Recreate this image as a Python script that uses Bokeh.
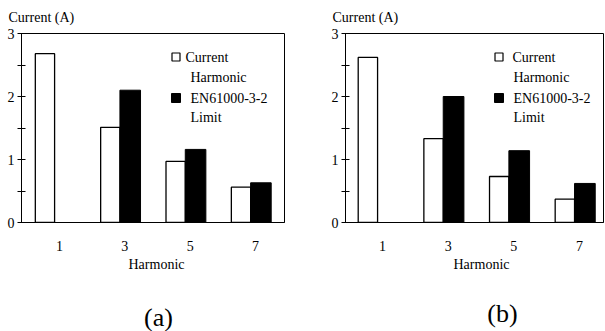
from bokeh.plotting import figure
from bokeh.layouts import row, column
from bokeh.models import FixedTicker, Label, Range1d, Title
from bokeh.core.properties import value
from bokeh.embed import file_html
from bokeh.resources import INLINE

# ---- data ----
harmonics = [1, 3, 5, 7]
tick_labels = ["1", "3", "5", "7"]
current_a = [2.68, 1.51, 0.97, 0.56]
current_b = [2.62, 1.33, 0.73, 0.37]
limit_harmonics = [3, 5, 7]
limit_a = [2.10, 1.16, 0.63]
limit_b = [2.00, 1.14, 0.62]
y_ticks = [0, 1, 2, 3]
y_minor = [0.5, 1.5, 2.5]
y_title = "Current (A)"
x_title = "Harmonic"
legend_current = ["Current", "Harmonic"]
legend_limit = ["EN61000-3-2", "Limit"]
captions = ["(a)", "(b)"]

FONT = "Liberation Serif"
CHART_H = 290


def txt(p, x, y, s, size="14px", align="left"):
    p.add_layout(Label(x=x, y=y, text=s, text_font=FONT, text_font_size=size,
                       text_color="black", text_align=align, text_baseline="middle"))


def panel(current, limit, width, bl, br, xs, xe, sq_x, cur_x, oth_x, xlab_off):
    p = figure(width=width, height=CHART_H, x_range=Range1d(xs, xe), y_range=Range1d(0, 3),
               output_backend="svg", toolbar_location=None,
               min_border_left=bl, min_border_right=br, min_border_top=33,
               min_border_bottom=CHART_H - 222)
    p.grid.visible = False
    p.outline_line_color = "black"
    p.outline_line_width = 1
    p.background_fill_color = "white"
    p.border_fill_color = "white"

    p.vbar(x=[h - 0.445 for h in harmonics], width=0.59, top=current, bottom=0,
           fill_color="white", line_color="black", line_width=1.3)
    p.vbar(x=[h + 0.165 for h in limit_harmonics], width=0.63, top=limit, bottom=0,
           fill_color="black", line_color="black", line_width=1.0)

    xa = p.xaxis[0]
    xa.ticker = FixedTicker(ticks=harmonics)
    xa.major_label_overrides = {h: l for h, l in zip(harmonics, tick_labels)}
    xa.major_tick_in = 0
    xa.major_tick_out = 0
    xa.minor_tick_in = 0
    xa.minor_tick_out = 0
    xa.major_label_standoff = 18
    xa.axis_line_color = "black"
    xa.major_label_text_font = FONT
    xa.major_label_text_font_size = "14px"
    xa.major_label_text_color = "black"

    ya = p.yaxis[0]
    ya.ticker = FixedTicker(ticks=y_ticks, minor_ticks=y_minor)
    ya.major_tick_in = 4
    ya.major_tick_out = 4
    ya.minor_tick_in = 4
    ya.minor_tick_out = 4
    ya.major_tick_line_color = "black"
    ya.minor_tick_line_color = "black"
    ya.major_label_standoff = 3
    ya.axis_line_color = "black"
    ya.major_label_text_font = FONT
    ya.major_label_text_font_size = "14px"
    ya.major_label_text_color = "black"

    p.title = Title(text=y_title, align="left", offset=-13, text_font=FONT,
                    text_font_size="14px", text_font_style="normal",
                    text_color="black", standoff=16, vertical_align="middle")
    p.add_layout(Title(text=x_title, align="left", offset=xlab_off, text_font=FONT,
                       text_font_size="14px", text_font_style="normal",
                       text_color="black", standoff=2), "below")

    # legend
    p.scatter(x=[sq_x], y=[2.627], marker="square", size=8, fill_color="white",
              line_color="black", line_width=1.2)
    p.scatter(x=[sq_x], y=[1.976], marker="square", size=9, fill_color="black",
              line_color="black")
    txt(p, cur_x, 2.619, legend_current[0])
    txt(p, oth_x, 2.30, legend_current[1])
    txt(p, oth_x, 1.968, legend_limit[0])
    txt(p, oth_x, 1.667, legend_limit[1])
    return p


p1 = panel(current_a, limit_a, 302, 21, 18, -0.163, 7.887, 4.566, 4.857, 5.01, 107)
p2 = panel(current_b, limit_b, 303, 43, 2, -0.127, 7.732, 4.549, 4.96, 4.99, 108)

# caption strip under both panels
cap_h = 331 - CHART_H
pc = figure(width=605, height=cap_h, x_range=Range1d(0, 605), y_range=Range1d(0, cap_h),
            output_backend="svg", toolbar_location=None, min_border=0)
pc.axis.visible = False
pc.grid.visible = False
pc.outline_line_color = None
pc.background_fill_color = "white"
pc.border_fill_color = "white"
pc.text(x=[158, 502], y=[14, 18], text=captions, text_font=value(FONT),
        text_font_size="26px", text_color="black", text_align="center",
        text_baseline="middle")

layout = column(row(p1, p2), pc)
open("out.html", "w").write(file_html(layout, INLINE))
